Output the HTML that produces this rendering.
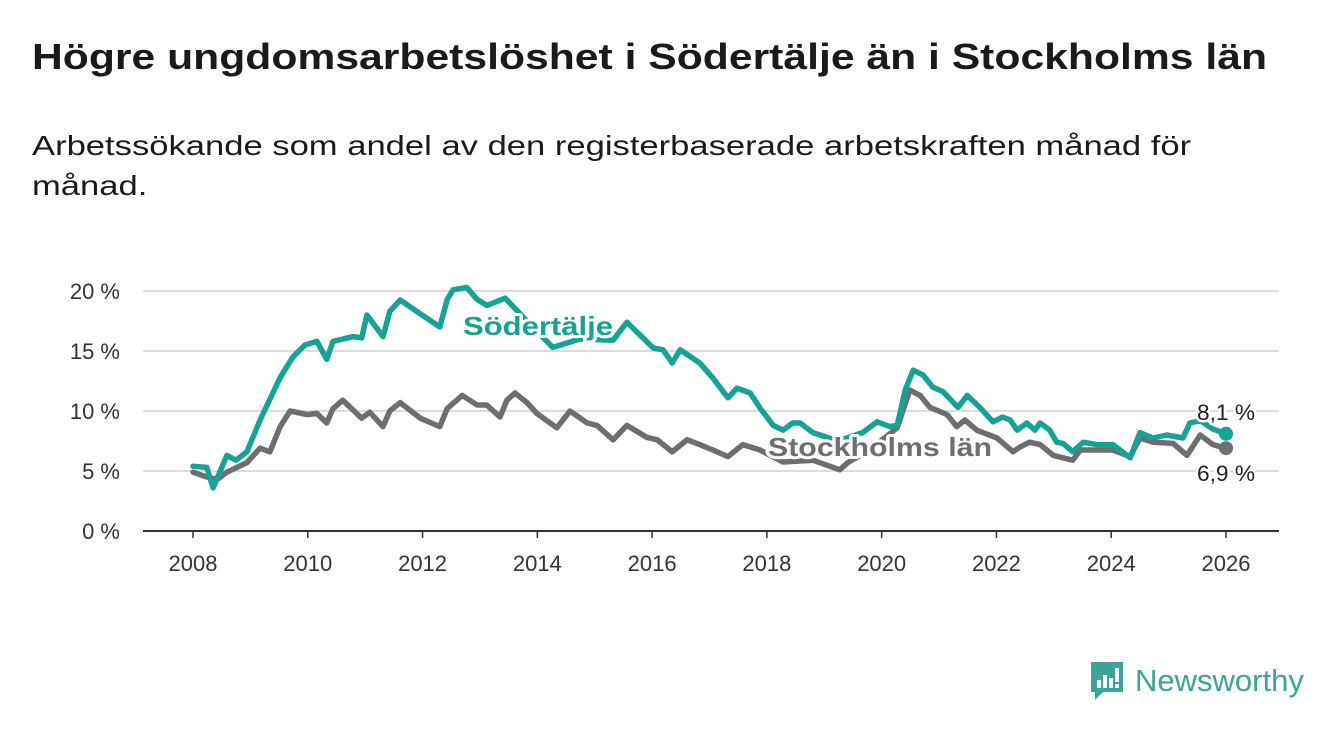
<!DOCTYPE html>
<html><head><meta charset="utf-8"><style>
body{margin:0;background:#fff;font-family:"Liberation Sans",sans-serif;}
#wrap{position:relative;width:1340px;height:734px;overflow:hidden;}
h1{position:absolute;left:32px;top:36px;margin:0;font-size:36px;font-weight:bold;color:#1a1a1a;transform-origin:0 0;transform:scaleX(1.185);white-space:nowrap}
p.sub{position:absolute;left:32px;top:126px;margin:0;font-size:28px;line-height:40px;color:#1a1a1a;transform-origin:0 0;transform:scaleX(1.235);white-space:nowrap}
</style></head><body><div id="wrap">
<h1>Högre ungdomsarbetslöshet i Södertälje än i Stockholms län</h1>
<p class="sub">Arbetssökande som andel av den registerbaserade arbetskraften månad för<br>månad.</p>
<svg id="chart" width="1340" height="734" style="position:absolute;left:0;top:0"></svg>
<div style="position:absolute;left:1089px;top:660px;display:flex;align-items:center">
<svg width="36" height="42"><path d="M2 2h32v30H14l-8 8v-8H2z" fill="#3aa596"/><rect x="8" y="20" width="4" height="8" fill="#fff"/><rect x="14" y="15" width="4" height="13" fill="#fff"/><rect x="20" y="18" width="4" height="10" fill="#fff"/><rect x="26" y="8" width="4" height="14" fill="#fff"/><rect x="26" y="24" width="4" height="4" fill="#fff"/></svg>
<span style="font-size:31px;color:#3aa596;margin-left:10px;font-weight:500">Newsworthy</span></div>
</div>
<script>
const xTicks=[2008,2010,2012,2014,2016,2018,2020,2022,2024,2026];
const yTicks=[0,5,10,15,20];
const sodYears=[2008.0,2008.24,2008.35,2008.59,2008.75,2008.94,2009.17,2009.52,2009.74,2009.95,2010.16,2010.33,2010.44,2010.79,2010.94,2011.03,2011.31,2011.43,2011.61,2011.96,2012.30,2012.43,2012.53,2012.77,2012.95,2013.12,2013.44,2013.82,2014.27,2014.74,2015.32,2015.56,2016.02,2016.19,2016.35,2016.49,2016.83,2017.06,2017.32,2017.48,2017.71,2017.88,2018.11,2018.28,2018.45,2018.58,2018.80,2019.24,2019.67,2019.92,2020.14,2020.27,2020.41,2020.55,2020.72,2020.89,2021.07,2021.33,2021.49,2021.71,2021.94,2022.11,2022.24,2022.36,2022.53,2022.67,2022.76,2022.93,2023.05,2023.16,2023.33,2023.51,2023.75,2024.03,2024.33,2024.50,2024.73,2024.97,2025.25,2025.37,2025.55,2025.77,2026.0];
const sodValues=[5.4,5.3,3.6,6.3,5.9,6.6,9.25,12.8,14.5,15.5,15.8,14.3,15.8,16.2,16.1,18,16.2,18.3,19.25,18.1,17,19.3,20.1,20.3,19.3,18.8,19.4,17.5,15.3,16.0,15.9,17.4,15.25,15.1,14,15.1,14,12.75,11.1,11.9,11.5,10.25,8.8,8.4,9,9,8.2,7.5,8.2,9.1,8.7,8.8,11.75,13.4,13,12,11.6,10.3,11.3,10.3,9.1,9.5,9.25,8.4,9,8.4,9,8.4,7.4,7.3,6.6,7.4,7.2,7.2,6.1,8.2,7.75,8,7.75,9,9.2,8.5,8.1];
const stoYears=[2008.0,2008.24,2008.42,2008.59,2008.94,2009.17,2009.34,2009.52,2009.69,2009.99,2010.16,2010.33,2010.44,2010.61,2010.94,2011.08,2011.31,2011.43,2011.61,2011.96,2012.30,2012.43,2012.69,2012.95,2013.12,2013.35,2013.47,2013.61,2013.82,2013.99,2014.34,2014.57,2014.87,2015.04,2015.32,2015.56,2015.91,2016.09,2016.35,2016.61,2016.83,2017.06,2017.32,2017.58,2017.88,2018.28,2018.80,2019.27,2019.41,2019.80,2020.27,2020.49,2020.67,2020.84,2021.14,2021.31,2021.45,2021.66,2022.01,2022.29,2022.41,2022.58,2022.76,2022.99,2023.33,2023.46,2024.03,2024.33,2024.50,2024.73,2025.08,2025.32,2025.55,2025.77,2026.0];
const stoValues=[4.9,4.5,4.3,4.9,5.7,6.9,6.6,8.7,10,9.7,9.8,9.0,10.2,10.9,9.4,9.9,8.7,10,10.7,9.4,8.7,10.2,11.3,10.5,10.5,9.5,10.9,11.5,10.7,9.8,8.6,10,9,8.8,7.6,8.8,7.8,7.6,6.6,7.6,7.2,6.75,6.2,7.2,6.75,5.75,5.9,5.1,5.7,6.8,8.6,11.75,11.3,10.3,9.7,8.7,9.25,8.4,7.75,6.6,7,7.4,7.2,6.3,5.9,6.75,6.75,6.2,7.75,7.4,7.3,6.3,8,7.2,6.9];
const TEAL='#14a394',GREY='#6e6d72';
const svg=document.getElementById('chart');
const NS='http://www.w3.org/2000/svg';
const x=v=>193+(v-2008)*(1226-193)/18;
const y=v=>531-v*12;
function mk(t,a,p){const e=document.createElementNS(NS,t);for(const k in a)e.setAttribute(k,a[k]);(p||svg).appendChild(e);return e;}
yTicks.forEach(v=>{
 if(v>0){const g=mk('line',{x1:143,x2:1279,y1:y(v),y2:y(v),stroke:'#dcdcdc','stroke-width':2});
 
 }
 const t=mk('text',{x:120,y:y(v)+8,'text-anchor':'end','font-size':22,fill:'#333','font-family':'Liberation Sans, sans-serif'});
 t.textContent=v+' %';
 
 
});
const ax=mk('line',{x1:143,x2:1279,y1:531,y2:531,stroke:'#333','stroke-width':2});


xTicks.forEach(v=>{
 const tk=mk('line',{x1:x(v),x2:x(v),y1:531,y2:538,stroke:'#333','stroke-width':1.5});
 
 
 const t=mk('text',{x:x(v),y:571,'text-anchor':'middle','font-size':22,fill:'#333','font-family':'Liberation Sans, sans-serif'});
 t.textContent=v;
 
 
});
function line(ys,vs,c,name){
 const d=ys.map((yr,i)=>(i?'L':'M')+x(yr).toFixed(1)+' '+y(vs[i]).toFixed(1)).join(' ');
 const p=mk('path',{d:d,fill:'none',stroke:c,'stroke-width':5.5,'stroke-linejoin':'round','stroke-linecap':'round'});
 
 
}
line(stoYears,stoValues,GREY,'stockholm-line');
line(sodYears,sodValues,TEAL,'sodertalje-line');
function lab(tx,xx,yy,c,name,size,bold,len){
 const a={x:xx,y:yy,'text-anchor':'middle','font-size':size,'font-weight':bold?'bold':'normal',fill:c,stroke:'#fff','stroke-width':bold?6:5,'paint-order':'stroke','stroke-linejoin':'round','font-family':'Liberation Sans, sans-serif'};
 if(len){a.textLength=len;a.lengthAdjust='spacingAndGlyphs';}
 const t=mk('text',a);
 t.textContent=tx;
 
 
}
lab('Södertälje',538,335,TEAL,'sodertalje-label',26,true,150);
lab('Stockholms län',880,456,GREY,'stockholm-label',26,true,224);
const lastS=sodValues[sodValues.length-1],lastT=stoValues[stoValues.length-1];
const d2=mk('circle',{cx:x(stoYears[stoYears.length-1]),cy:y(lastT),r:7,fill:GREY});


const d1=mk('circle',{cx:x(sodYears[sodYears.length-1]),cy:y(lastS),r:7,fill:TEAL});


lab(String(lastS).replace('.',',')+' %',1226,y(lastS)-14,'#222','sodertalje-end-value',22,false,58);
lab(String(lastT).replace('.',',')+' %',1226,y(lastT)+33,'#222','stockholm-end-value',22,false,58);
</script></body></html>
